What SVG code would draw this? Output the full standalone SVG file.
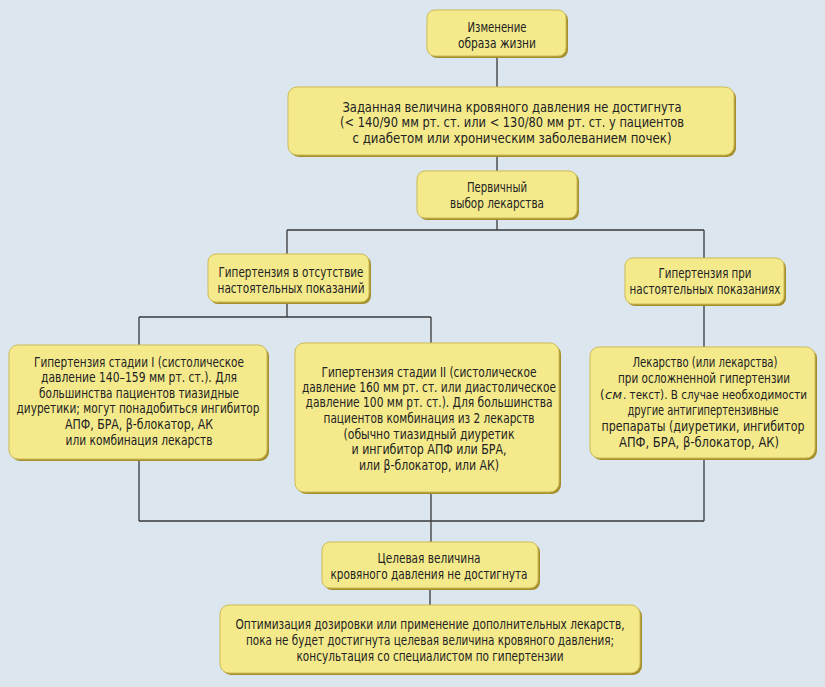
<svg xmlns="http://www.w3.org/2000/svg" width="825" height="687" viewBox="0 0 825 687">
<defs>
<style>
.bg{fill:#dbe6ee}
.sh{fill:#a48f2c}
.bx{fill:#f4ea8c;stroke:#cdbb55;stroke-width:1}
.ln{stroke:#3a3a3a;stroke-width:1.3;fill:none}
text{font-family:"DejaVu Sans Condensed","Liberation Sans",sans-serif;font-size:13.5px;fill:#222;text-anchor:middle}
.st{text-anchor:start;font-size:12.2px}
</style>
</defs>
<rect class="bg" x="0" y="0" width="825" height="687"/>
<g id="connectors">
<path class="ln" d="M497 56V88M497 155V172M497 218V230M287 230H704M287 230V255M704 230V259"/>
<path class="ln" d="M287 302V317M139 317H431M139 317V346M431 317V344"/>
<path class="ln" d="M704 304V348"/>
<path class="ln" d="M139 459V521M431 492V543M704 458V521M139 521H704"/>
<path class="ln" d="M430 588V606"/>
</g>
<g id="n1">
<rect class="sh" x="429" y="12" width="139" height="46" rx="8"/>
<rect class="bx" x="427" y="10" width="139" height="46" rx="8"/>
<text x="497" y="32" textLength="59" lengthAdjust="spacingAndGlyphs">Изменение</text>
<text x="497" y="48" textLength="78" lengthAdjust="spacingAndGlyphs">образа жизни</text>
</g>
<g id="n2">
<rect class="sh" x="290" y="89" width="446" height="68" rx="9"/>
<rect class="bx" x="288" y="87" width="446" height="68" rx="9"/>
<text x="512" y="112" textLength="339" lengthAdjust="spacingAndGlyphs">Заданная величина кровяного давления не достигнута</text>
<text x="512" y="127" textLength="344" lengthAdjust="spacingAndGlyphs">(&lt; 140/90 мм рт. ст. или &lt; 130/80 мм рт. ст. у пациентов</text>
<text x="512" y="143" textLength="319" lengthAdjust="spacingAndGlyphs">с диабетом или хроническим заболеванием почек)</text>
</g>
<g id="n3">
<rect class="sh" x="419" y="173" width="160" height="47" rx="8"/>
<rect class="bx" x="417" y="171" width="160" height="47" rx="8"/>
<text x="497" y="192" textLength="60" lengthAdjust="spacingAndGlyphs">Первичный</text>
<text x="497" y="208" textLength="94" lengthAdjust="spacingAndGlyphs">выбор лекарства</text>
</g>
<g id="n4">
<rect class="sh" x="210" y="256" width="161" height="48" rx="8"/>
<rect class="bx" x="208" y="254" width="161" height="48" rx="8"/>
<text x="291" y="277" textLength="145" lengthAdjust="spacingAndGlyphs">Гипертензия в отсутствие</text>
<text x="291" y="293" textLength="147" lengthAdjust="spacingAndGlyphs">настоятельных показаний</text>
</g>
<g id="n5">
<rect class="sh" x="627" y="260" width="159" height="46" rx="8"/>
<rect class="bx" x="625" y="258" width="159" height="46" rx="8"/>
<text x="705" y="278" textLength="93" lengthAdjust="spacingAndGlyphs">Гипертензия при</text>
<text x="705" y="294" textLength="151" lengthAdjust="spacingAndGlyphs">настоятельных показаниях</text>
</g>
<g id="n6">
<rect class="sh" x="11" y="347" width="258" height="114" rx="9"/>
<rect class="bx" x="9" y="345" width="258" height="114" rx="9"/>
<text x="139" y="367" textLength="210" lengthAdjust="spacingAndGlyphs">Гипертензия стадии I (систолическое</text>
<text x="139" y="382" textLength="196" lengthAdjust="spacingAndGlyphs">давление 140–159 мм рт. ст.). Для</text>
<text x="139" y="398" textLength="200" lengthAdjust="spacingAndGlyphs">большинства пациентов тиазидные</text>
<text x="138" y="413" textLength="243" lengthAdjust="spacingAndGlyphs">диуретики; могут понадобиться ингибитор</text>
<text x="139" y="429" textLength="148" lengthAdjust="spacingAndGlyphs">АПФ, БРА, β-блокатор, АК</text>
<text x="139" y="445" textLength="147" lengthAdjust="spacingAndGlyphs">или комбинация лекарств</text>
</g>
<g id="n7">
<rect class="sh" x="297" y="345" width="264" height="149" rx="9"/>
<rect class="bx" x="295" y="343" width="264" height="149" rx="9"/>
<text x="429" y="377" textLength="215" lengthAdjust="spacingAndGlyphs">Гипертензия стадии II (систолическое</text>
<text x="429" y="392" textLength="254" lengthAdjust="spacingAndGlyphs">давление 160 мм рт. ст. или диастолическое</text>
<text x="429" y="407" textLength="247" lengthAdjust="spacingAndGlyphs">давление 100 мм рт. ст.). Для большинства</text>
<text x="429" y="423" textLength="211" lengthAdjust="spacingAndGlyphs">пациентов комбинация из 2 лекарств</text>
<text x="429" y="439" textLength="171" lengthAdjust="spacingAndGlyphs">(обычно тиазидный диуретик</text>
<text x="429" y="454" textLength="155" lengthAdjust="spacingAndGlyphs">и ингибитор АПФ или БРА,</text>
<text x="429" y="470" textLength="140" lengthAdjust="spacingAndGlyphs">или β-блокатор, или АК)</text>
</g>
<g id="n8">
<rect class="sh" x="592" y="349" width="225" height="111" rx="9"/>
<rect class="bx" x="590" y="347" width="225" height="111" rx="9"/>
<text x="705" y="367" textLength="145" lengthAdjust="spacingAndGlyphs">Лекарство (или лекарства)</text>
<text x="704" y="383" textLength="172" lengthAdjust="spacingAndGlyphs">при осложненной гипертензии</text>
<text class="st" x="600" y="399" textLength="4.5" lengthAdjust="spacingAndGlyphs">(</text>
<text class="st" x="605" y="399" textLength="17" lengthAdjust="spacingAndGlyphs" font-style="italic">см</text>
<text class="st" x="623" y="399" textLength="184" lengthAdjust="spacingAndGlyphs">. текст). В случае необходимости</text>
<text x="703" y="415" textLength="151" lengthAdjust="spacingAndGlyphs">другие антигипертензивные</text>
<text x="703" y="431" textLength="203" lengthAdjust="spacingAndGlyphs">препараты (диуретики, ингибитор</text>
<text x="699" y="447" textLength="160" lengthAdjust="spacingAndGlyphs">АПФ, БРА, β-блокатор, АК)</text>
</g>
<g id="n9">
<rect class="sh" x="324" y="544" width="216" height="46" rx="8"/>
<rect class="bx" x="322" y="542" width="216" height="46" rx="8"/>
<text x="429" y="563" textLength="103" lengthAdjust="spacingAndGlyphs">Целевая величина</text>
<text x="429" y="579" textLength="197" lengthAdjust="spacingAndGlyphs">кровяного давления не достигнута</text>
</g>
<g id="n10">
<rect class="sh" x="222" y="607" width="420" height="68" rx="9"/>
<rect class="bx" x="220" y="605" width="420" height="68" rx="9"/>
<text x="430" y="629" textLength="389" lengthAdjust="spacingAndGlyphs">Оптимизация дозировки или применение дополнительных лекарств,</text>
<text x="430" y="645" textLength="368" lengthAdjust="spacingAndGlyphs">пока не будет достигнута целевая величина кровяного давления;</text>
<text x="430" y="661" textLength="267" lengthAdjust="spacingAndGlyphs">консультация со специалистом по гипертензии</text>
</g>
</svg>
